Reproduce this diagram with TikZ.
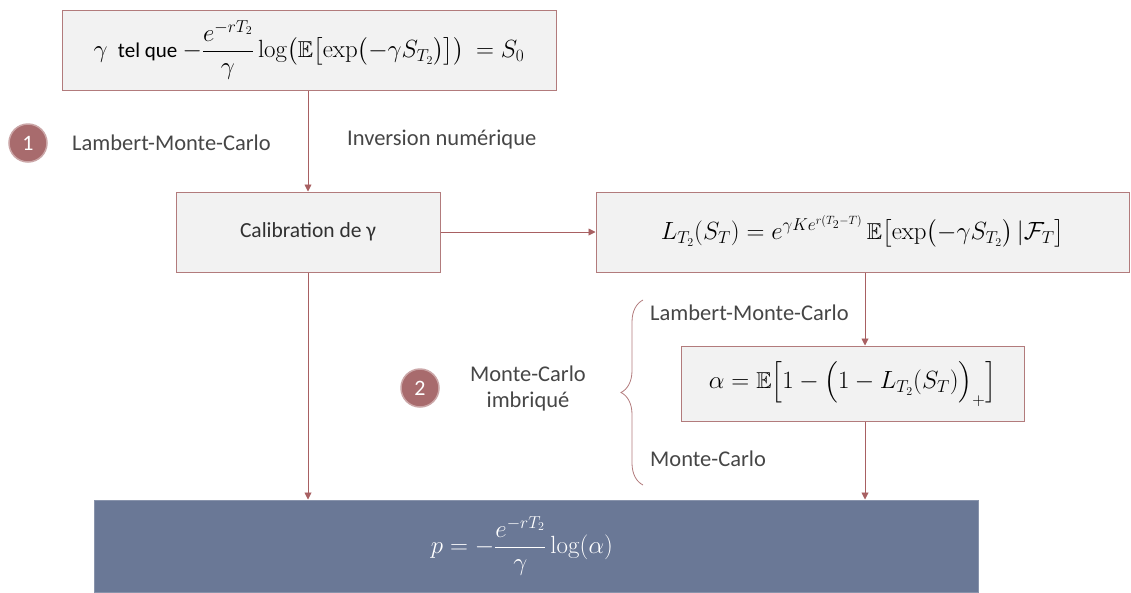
\documentclass[tikz,border=0pt]{standalone}
\usepackage{amsmath,amssymb}
\usepackage[no-math]{fontspec}
\setmainfont{Carlito}
\usetikzlibrary{arrows.meta,decorations.pathreplacing}
\definecolor{edgec}{HTML}{B27B7C}
\definecolor{arrc}{HTML}{A86062}
\definecolor{boxfill}{HTML}{F2F2F2}
\definecolor{darkfill}{HTML}{6A7896}
\definecolor{circfill}{HTML}{A86B6D}
\definecolor{txt}{HTML}{464646}
\tikzset{
  lightbox/.style={draw=edgec, line width=1pt, fill=boxfill, rectangle, inner sep=0pt, text=black, font=\fontsize{23}{27}\selectfont},
  darkbox/.style={draw=darkfill!80!white, line width=1pt, fill=darkfill, rectangle, inner sep=0pt, text=white, font=\fontsize{25}{29}\selectfont},
  arr/.style={draw=arrc, line width=0.9pt, -{Triangle[width=7pt,length=7pt]}},
  lbl/.style={text=txt, font=\fontsize{22.5}{26}\selectfont, inner sep=0pt},
  numc/.style={circle, fill=circfill, draw=circfill!60!white, line width=1.5pt, minimum size=38pt, inner sep=0pt, text=white, font=\fontsize{22}{26}\selectfont},
}
\begin{document}
\begin{tikzpicture}[x=1pt,y=-1pt]
\useasboundingbox (0,0) rectangle (1131,592);
\node[lightbox, minimum width=494pt, minimum height=80pt] (top) at (309,50)
  {$\gamma$\ \ {\fontsize{21}{25}\selectfont tel que} $-\dfrac{e^{-rT_2}}{\gamma}\log\bigl(\mathbb{E}\bigl[\exp\bigl(-\gamma S_{T_2}\bigr)\bigr]\bigr)\ = S_0$};
\node[lightbox, minimum width=264pt, minimum height=80pt, text=txt!70!black, font=\fontsize{21.5}{25}\selectfont] (calib) at (308,232) {Calibration de γ};
\node[lightbox, minimum width=533pt, minimum height=80pt] (L) at (862.5,232)
  {$L_{T_2}(S_T) = e^{\gamma K e^{r(T_2-T)}}\,\mathbb{E}\bigl[\exp\bigl(-\gamma S_{T_2}\bigr)\,|\mathcal{F}_T\bigr]$};
\node[lightbox, minimum width=343pt, minimum height=75pt] (alpha) at (852.5,383.5)
  {$\alpha = \mathbb{E}\Bigl[1-\Bigl(1-L_{T_2}(S_T)\Bigr)_{+}\Bigr]$};
\node[darkbox, minimum width=884pt, minimum height=92pt] (bottom) at (536,546)
  {\hspace*{-28pt}$p = -\dfrac{e^{-rT_2}}{\gamma}\log(\alpha)$};
\coordinate (ax) at (865,0);
\draw[arr] (top.south -| calib.north) -- (calib.north);
\draw[arr] (calib.east) -- (L.west);
\draw[arr] (L.south -| ax) -- (alpha.north -| ax);
\draw[arr] (alpha.south -| ax) -- (bottom.north -| ax);
\draw[arr] (calib.south) -- (bottom.north -| calib.south);
\node[numc] (c1) at (28,143) {1};
\node[numc] (c2) at (420,388) {2};
\node[lbl, anchor=west] (lmc1) at (72,143) {Lambert-Monte-Carlo};
\node[lbl, anchor=west] (inv) at (347,140) {Inversion numérique};
\node[lbl, align=center] (mci) at (528,388) {Monte-Carlo\\imbriqué};
\node[lbl, anchor=west] (lmc2) at (650,313) {Lambert-Monte-Carlo};
\node[lbl, anchor=west] (mc) at (650,459) {Monte-Carlo};
\draw[edgec, line width=0.8pt, decorate, decoration={brace, amplitude=22pt}] (643,485) -- (643,300);
\end{tikzpicture}
\end{document}
